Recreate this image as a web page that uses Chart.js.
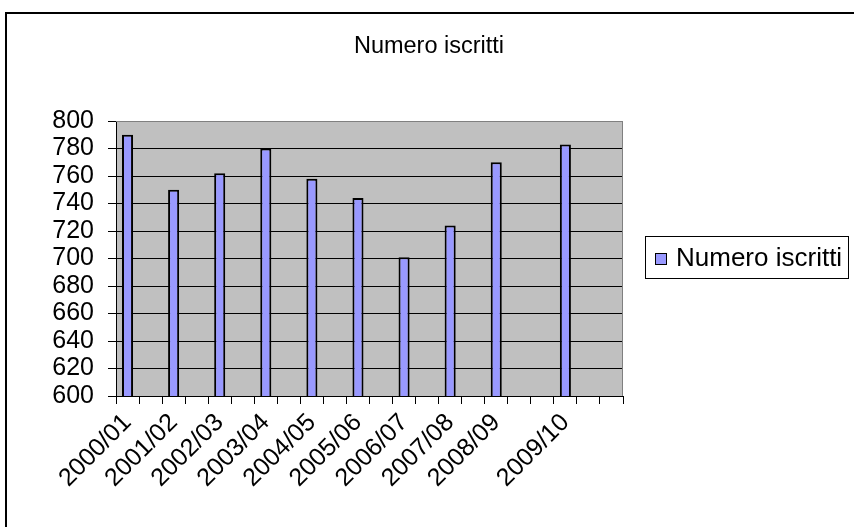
<!DOCTYPE html>
<html>
<head>
<meta charset="utf-8">
<script src="https://cdn.jsdelivr.net/npm/chart.js@4"></script>
<style>
  html, body { margin: 0; padding: 0; background: #fff; }
  #wrap { position: relative; width: 854px; height: 527px; }
</style>
</head>
<body>
<div id="wrap"><canvas id="chart" width="854" height="527"></canvas></div>
<script>
const chartTitle = 'Numero iscritti';
const seriesName = 'Numero iscritti';
// 22 category slots on the axis, only some carry a year
const categories = ['2000/01', '', '2001/02', '', '2002/03', '', '2003/04', '', '2004/05', '', '2005/06', '',
                    '2006/07', '', '2007/08', '', '2008/09', '', '', '2009/10', '', ''];
const iscritti = [790, null, 750, null, 762, null, 780, null, 758, null, 744, null,
                  701, null, 724, null, 770, null, null, 783, null, null];
const yMin = 600;
const yMax = 800;
const yStep = 20;

const font = '"Liberation Sans", Arial, sans-serif';

const decor = {
  id: 'decor',
  beforeDraw(chart) {
    const ctx = chart.ctx;
    const a = chart.chartArea;
    ctx.save();
    ctx.fillStyle = '#c0c0c0';
    ctx.fillRect(a.left, a.top, a.right - a.left, a.bottom - a.top);
    ctx.restore();
  },
  afterDraw(chart) {
    const ctx = chart.ctx;
    const a = chart.chartArea;
    ctx.save();
    // plot border (top / right grey)
    ctx.strokeStyle = '#808080';
    ctx.lineWidth = 1;
    ctx.beginPath();
    ctx.moveTo(a.left, a.top + 0.5);
    ctx.lineTo(a.right - 0.5, a.top + 0.5);
    ctx.lineTo(a.right - 0.5, a.bottom);
    ctx.stroke();
    // outer frame
    ctx.strokeStyle = '#000';
    ctx.lineWidth = 2;
    ctx.strokeRect(6, 13, 900, 600);
    // title
    ctx.fillStyle = '#000';
    ctx.font = '23.5px ' + font;
    ctx.textAlign = 'center';
    ctx.textBaseline = 'middle';
    ctx.fillText(chartTitle, 429, 47);
    // legend
    ctx.lineWidth = 1;
    ctx.fillStyle = '#fff';
    ctx.fillRect(645.5, 236.5, 203, 42);
    ctx.strokeRect(645.5, 236.5, 203, 42);
    ctx.fillStyle = '#9999ff';
    ctx.fillRect(655.5, 253.5, 11, 11);
    ctx.strokeRect(655.5, 253.5, 11, 11);
    ctx.fillStyle = '#000';
    ctx.textAlign = 'left';
    ctx.font = '26px ' + font;
    ctx.fillText(seriesName, 676, 259);
    ctx.restore();
  }
};

new Chart(document.getElementById('chart'), {
  type: 'bar',
  data: {
    labels: categories,
    datasets: [{
      label: seriesName,
      data: iscritti,
      backgroundColor: '#9999ff',
      borderColor: '#000',
      borderWidth: 2,
      barPercentage: 0.48,
      categoryPercentage: 1.0
    }]
  },
  options: {
    responsive: false,
    animation: false,
    layout: { padding: { top: 121, right: 231, bottom: 0, left: 0 } },
    plugins: {
      legend: { display: false },
      title: { display: false },
      tooltip: { enabled: false }
    },
    scales: {
      x: {
        afterFit(scale) { scale.height = 131; },
        grid: {
          offset: true,
          drawOnChartArea: false,
          tickLength: 8,
          color: '#000',
          lineWidth: 1
        },
        border: { color: '#000', width: 1 },
        ticks: {
          autoSkip: false,
          minRotation: 45,
          maxRotation: 45,
          padding: 4,
          color: '#000',
          font: { family: font, size: 25 }
        }
      },
      y: {
        min: yMin,
        max: yMax,
        afterFit(scale) { scale.width = 116; },
        grid: {
          color: (c) => (c.tick && c.tick.value === yMax ? '#808080' : '#000'),
          tickColor: '#000',
          tickLength: 8,
          lineWidth: 1
        },
        border: { color: '#000', width: 1 },
        ticks: {
          stepSize: yStep,
          autoSkip: false,
          padding: 14,
          color: '#000',
          font: { family: font, size: 25 }
        }
      }
    }
  },
  plugins: [decor]
});
</script>
</body>
</html>
